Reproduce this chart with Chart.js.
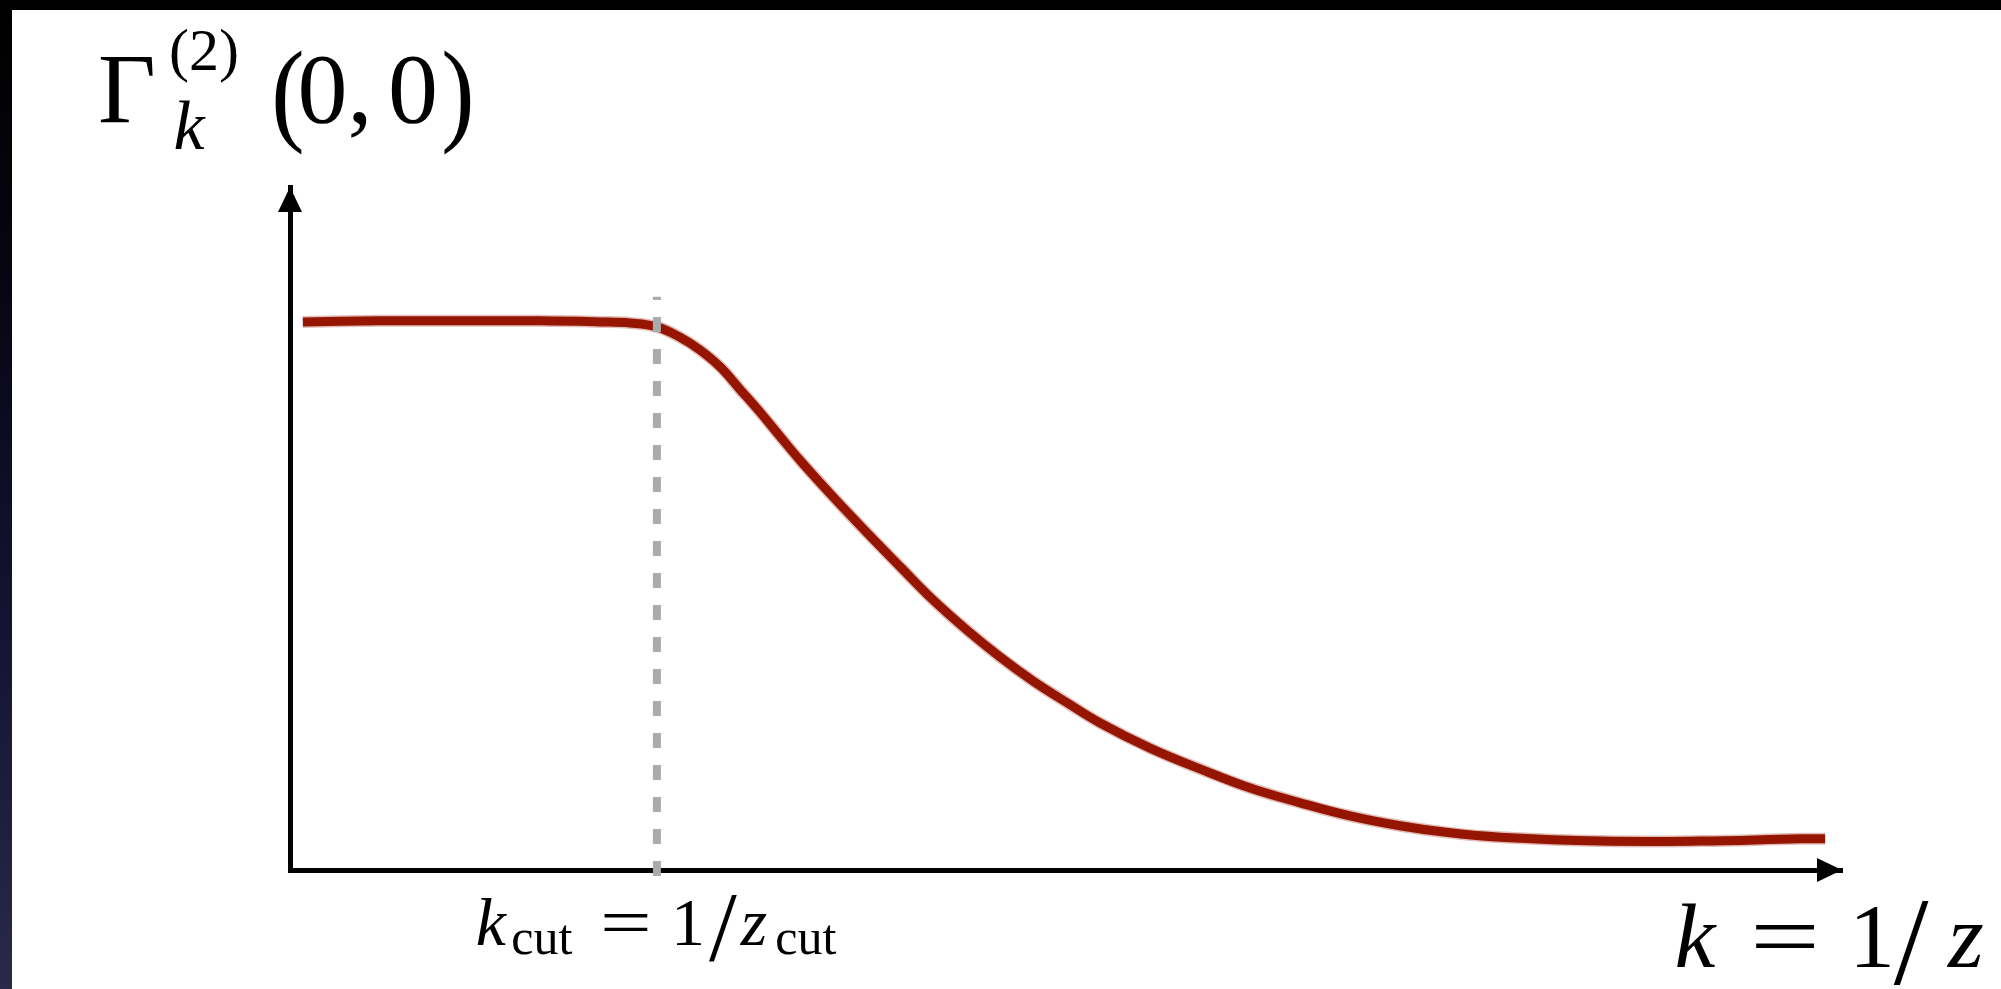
<!DOCTYPE html>
<html lang="en">
<head>
    <meta charset="UTF-8">
    <title>Gamma_k^(2)(0,0) vs k</title>
    <style>
        html, body { margin: 0; padding: 0; background: #fff; overflow: hidden; }
        .stage { position: relative; width: 2001px; height: 989px; }
        .chart-div { position: absolute; left: 0; top: 0; width: 2001px; height: 989px; }
        .edge-top { position: absolute; left: 0; top: 0; width: 2001px; height: 10px; background: #000; }
        .edge-left {
            position: absolute; left: 0; top: 0; width: 12px; height: 989px;
            background: linear-gradient(to bottom, #000 0%, #05050f 25%, #10102c 55%, #1c1c3c 80%, #2a2a48 100%);
        }
        .lbl {
            position: absolute;
            font-family: "Liberation Serif", serif;
            line-height: 1;
            white-space: nowrap;
            color: #000;
            transform-origin: 50% 80%;
        }
    </style>
</head>
<body>
    <div class="stage" id="stage">
        <div class="chart-div"><canvas id="chart"></canvas></div>
        <div class="edge-left"></div>
        <div class="edge-top"></div>
    </div>
    <script src="https://cdn.jsdelivr.net/npm/chart.js"></script>
    <script>
    // curve (k in units of k_cut, Gamma in units of the plateau)
    const kValues = [0.035, 0.245, 0.463, 0.681, 0.845, 0.927, 1.000, 1.063, 1.117, 1.172, 1.226,
                     1.281, 1.335, 1.390, 1.480, 1.573, 1.663, 1.753, 1.845, 1.935, 2.025, 2.118,
                     2.208, 2.344, 2.480, 2.617, 2.753, 2.889, 3.025, 3.162, 3.298, 3.571, 3.843,
                     4.116, 4.184];
    const gammaValues = [1.003, 1.005, 1.005, 1.005, 1.003, 1.001, 0.994, 0.975, 0.952, 0.921, 0.880,
                         0.838, 0.794, 0.750, 0.683, 0.617, 0.555, 0.494, 0.439, 0.390, 0.346, 0.306,
                         0.269, 0.223, 0.185, 0.150, 0.123, 0.099, 0.081, 0.068, 0.060, 0.053, 0.053,
                         0.057, 0.057];

    // cutoff marker
    const kCut = 1.0;
    const cutLineGamma = [-0.011, 1.049];

    // axis ranges
    const kAxisMax = 4.23;
    const gammaAxisMax = 1.25;

    const curveColor = '#951500';
    const cutColor = '#a9acac';
    const axisColor = '#000';

    // arrow heads at the end of both axes
    const axisArrows = {
        id: 'axisArrows',
        afterDraw(chart) {
            const ctx = chart.ctx;
            const a = chart.chartArea;
            ctx.save();
            ctx.fillStyle = axisColor;
            ctx.beginPath();
            ctx.moveTo(a.right, a.bottom);
            ctx.lineTo(a.right - 25, a.bottom - 12);
            ctx.lineTo(a.right - 25, a.bottom + 12);
            ctx.closePath();
            ctx.fill();
            ctx.beginPath();
            ctx.moveTo(a.left, a.top);
            ctx.lineTo(a.left - 12, a.top + 25);
            ctx.lineTo(a.left + 12, a.top + 25);
            ctx.closePath();
            ctx.fill();
            ctx.restore();
        }
    };

    const curvePoints = kValues.map((k, i) => ({ x: k, y: gammaValues[i] }));

    const chart = new Chart(document.getElementById('chart'), {
        type: 'line',
        data: {
            datasets: [
                {
                    // dashed k_cut marker, on top
                    data: cutLineGamma.map(g => ({ x: kCut, y: g })),
                    borderColor: cutColor,
                    borderWidth: 8,
                    borderDash: [15, 17],
                    pointRadius: 0,
                    clip: false,
                    order: 0
                },
                {
                    data: curvePoints,
                    borderColor: curveColor,
                    borderWidth: 9,
                    tension: 0.4,
                    pointRadius: 0,
                    order: 1
                },
                {
                    // soft rough edge of the hand-drawn stroke
                    data: curvePoints,
                    borderColor: 'rgba(150, 21, 0, 0.28)',
                    borderWidth: 12,
                    tension: 0.4,
                    pointRadius: 0,
                    order: 2
                }
            ]
        },
        options: {
            responsive: true,
            maintainAspectRatio: false,
            animation: false,
            events: [],
            layout: {
                padding: { left: 290, top: 187, right: 159, bottom: 119 }
            },
            scales: {
                x: {
                    type: 'linear',
                    min: 0,
                    max: kAxisMax,
                    grid: { display: false, drawTicks: false },
                    ticks: { display: false },
                    border: { display: true, width: 5, color: axisColor }
                },
                y: {
                    type: 'linear',
                    min: 0,
                    max: gammaAxisMax,
                    grid: { display: false, drawTicks: false },
                    ticks: { display: false },
                    border: { display: true, width: 5, color: axisColor }
                }
            },
            plugins: {
                legend: { display: false },
                tooltip: { enabled: false }
            }
        },
        plugins: [axisArrows]
    });

    // math labels as real text, placed by centre x and baseline
    const stage = document.getElementById('stage');
    function put(txt, cx, base, size, italic, sx, sy) {
        const el = document.createElement('span');
        el.className = 'lbl';
        el.textContent = txt;
        el.style.left = cx + 'px';
        el.style.top = (base - 0.8375 * size) + 'px';
        el.style.fontSize = size + 'px';
        el.style.fontStyle = italic ? 'italic' : 'normal';
        el.style.transform = 'translateX(-50%) scale(' + (sx || 1) + ',' + (sy || 1) + ')';
        stage.appendChild(el);
    }

    // y-axis title: Γ_k^(2)(0,0)
    put('\u0393', 127, 123, 100, false);
    put('(2)', 204, 70, 60, false);
    put('k', 189, 150, 70, true);
    put('(', 288, 131, 100, false, 1, 1.14);
    put('0,', 335, 123, 100, false);
    put('0', 413, 123, 100, false);
    put(')', 458, 131, 100, false, 1, 1.14);

    // k_cut = 1/z_cut under the dashed line
    const cx = chart.scales.x.getPixelForValue(kCut);
    put('k', cx - 166, 945, 68, true);
    put('cut', cx - 115, 954, 50, false);
    put('=', cx - 31, 945, 68, false, 1.35, 1);
    put('1', cx + 31, 945, 68, false);
    put('/', cx + 66, 961, 100, false);
    put('z', cx + 97, 945, 68, true);
    put('cut', cx + 149, 954, 50, false);

    // x-axis title: k = 1/z
    put('k', 1695, 967, 92, true);
    put('=', 1785, 967, 92, false, 1.35, 1);
    put('1', 1872, 967, 92, false);
    put('/', 1911, 985, 125, false);
    put('z', 1966, 967, 92, true);
    </script>
</body>
</html>
